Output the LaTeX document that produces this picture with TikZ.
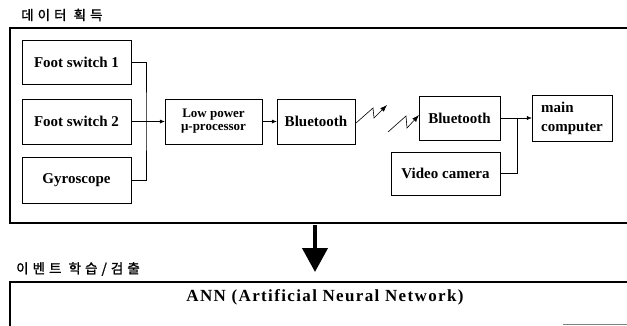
\documentclass[tikz,border=0pt]{standalone}
\usepackage{fontspec}
\setmainfont{Liberation Serif}
\newfontfamily\kofont[LetterSpace=30,FakeBold=1.2]{Noto Sans CJK KR}
\newfontfamily\annfont[LetterSpace=8]{Liberation Serif}
\usepackage{tikz}
\usetikzlibrary{arrows.meta}
\usetikzlibrary{positioning}

\begin{document}
\begin{tikzpicture}[
x=1pt,y=-1pt,
MyBoxes/.style={draw=black,thin,font=\fontsize{15}{15}\selectfont\bfseries,align=center,inner sep=0pt},
Frames/.style={draw=black,line width=1.6pt},
Wires/.style={draw=black,thin},
Titles/.style={anchor=west,font=\kofont\fontsize{13.5}{13.5}\selectfont,inner sep=0pt},
every node/.style={text=black}
]
\useasboundingbox (0,0) rectangle (627,325);
\clip (0,0) rectangle (627,325);

% titles of the two parts
\node[Titles] (tacq) at (21,15) {데이터 획득};
\node[Titles] (tann) at (16,269) {이벤트 학습/검출};

% open frames (cut at the right side)
\draw[Frames] (630,28) -- (10,28) -- (10,223) -- (630,223);
\draw[Frames] (630,282) -- (10,282) -- (10,330);
\draw[gray,thin] (563,324) -- (630,324);

% sensor side
\node[MyBoxes,minimum width=109pt,minimum height=44pt] (fs1) at (76.5,62) {Foot switch 1};
\node[MyBoxes,minimum width=109pt,minimum height=45pt] (fs2) at (76.5,121.5) {Foot switch 2};
\node[MyBoxes,minimum width=109pt,minimum height=46pt] (gyro) at (76.5,180) {Gyroscope};

\node[MyBoxes,minimum width=97pt,minimum height=45pt,font=\fontsize{13}{13}\selectfont\bfseries] (mcu) at (213.5,121.5) {Low power\\μ-processor};
\node[MyBoxes,minimum width=78pt,minimum height=45pt] (bt1) at (316,121.5) {Bluetooth};

% receiver side
\node[MyBoxes,minimum width=81pt,minimum height=44pt] (bt2) at (459.5,118) {Bluetooth};
\node[MyBoxes,minimum width=80pt,minimum height=46pt,align=left,font=\fontsize{15}{19}\selectfont\bfseries] (pc) at (572,118) {main\\computer};
\node[MyBoxes,minimum width=109pt,minimum height=43pt] (cam) at (445.5,173.5) {Video camera};

\coordinate (J) at (146,121.5);
\coordinate (K) at (517,118);

\draw[Wires] (fs1.east) -| (J) |- (gyro.east);
\draw[Wires,-{Latex[length=5pt,width=4pt]}] (fs2.east) -- (mcu.west);
\draw[Wires,-{Latex[length=5pt,width=4pt]}] (mcu.east) -- (bt1.west);
\draw[Wires,-{Latex[length=5pt,width=4pt]}] (bt2.east) -- (pc.west);
\draw[Wires] (cam.east) -| (K);

% radio link
\coordinate (A1) at (356,123);
\coordinate (A2) at (373,108);
\coordinate (A3) at (374,118);
\coordinate (A4) at (387,105);
\coordinate (B1) at (388,132);
\coordinate (B2) at (406,116);
\coordinate (B3) at (407,128);
\coordinate (B4) at (419,115);
\draw[Wires,semithick,-{Latex[length=7pt,width=5pt]}] (A1)--(A2)--(A3)--(A4);
\draw[Wires,semithick,-{Latex[length=7pt,width=5pt]}] (B1)--(B2)--(B3)--(B4);

% big arrow down to the ANN part
\coordinate (D1) at (315,225);
\coordinate (D2) at (315,272);
\draw[line width=4pt,-{Triangle[length=24pt,width=25pt]}] (D1)--(D2);

\node[font=\annfont\fontsize{17}{17}\selectfont\bfseries,inner sep=0pt] (ann) at (325,297) {ANN (Artificial Neural Network)};

\end{tikzpicture}
\end{document}
